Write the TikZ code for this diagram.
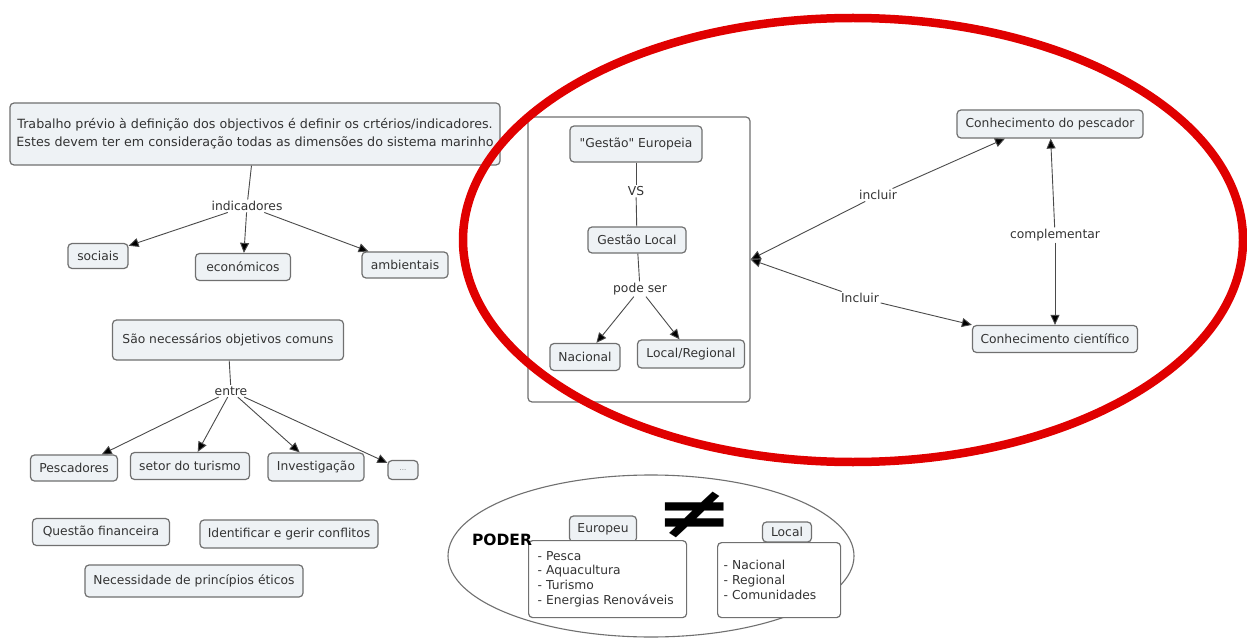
\documentclass[tikz,border=0pt]{standalone}
\usepackage{fontspec}
\setmainfont{DejaVu Sans}[Ligatures=TeXOff]
\usetikzlibrary{arrows.meta}
\definecolor{boxfill}{HTML}{EEF2F5}
\definecolor{boxline}{HTML}{707070}
\definecolor{linkc}{HTML}{4A4A4A}
\definecolor{txt}{HTML}{333333}
\definecolor{redc}{HTML}{E00000}
\begin{document}
\begin{tikzpicture}[x=1pt,y=-1pt,
  every node/.style={font=\fontsize{12.3}{14}\selectfont, text=txt},
  concept/.style={draw=boxline, line width=1.2pt, fill=boxfill, rounded corners=4pt, inner sep=2pt, align=center},
  listbox/.style={draw=boxline, line width=1.2pt, fill=white, rounded corners=4pt, align=left, font=\fontsize{12.3}{14.8}\selectfont},
  linklabel/.style={fill=white, inner sep=1.5pt},
  link/.style={draw=linkc, line width=0.9pt},
  arr/.style={link, -{Triangle[length=10pt,width=9pt,fill=black]}}
]
\useasboundingbox[fill=white] (0,0) rectangle (1247,639);

% ---------- left: indicators ----------
\node[concept, minimum width=490pt, minimum height=62pt, font=\fontsize{12.7}{18}\selectfont] (trab) at (255,134)
  {Trabalho prévio à definição dos objectivos é definir os crtérios/indicadores.\\Estes devem ter em consideração todas as dimensões do sistema marinho};
\node[linklabel] (ind) at (247,206) {indicadores};
\node[concept, minimum width=60pt, minimum height=25pt] (soc) at (98,256) {sociais};
\node[concept, minimum width=95pt, minimum height=27pt] (eco) at (243,267) {económicos};
\node[concept, minimum width=86pt, minimum height=26pt] (amb) at (405,265) {ambientais};
\draw[link] (trab) -- (ind);
\draw[arr] (ind) -- (soc);
\draw[arr] (ind) -- (eco);
\draw[arr] (ind) -- (amb);

% ---------- left: common objectives ----------
\node[concept, minimum width=231pt, minimum height=40pt] (obj) at (228,340) {São necessários objetivos comuns};
\node[linklabel] (entre) at (231,391) {entre};
\node[concept, minimum width=87pt, minimum height=26pt] (pesc) at (74,468) {Pescadores};
\node[concept, minimum width=119pt, minimum height=27pt] (setor) at (190,466) {setor do turismo};
\node[concept, minimum width=96pt, minimum height=28pt] (inv) at (316,467) {Investigação};
\node[concept, minimum width=30pt, minimum height=19pt, font=\fontsize{7}{8}\selectfont, text=gray] (dots) at (403,470) {...};
\draw[link] (obj) -- (entre);
\draw[arr] (entre) -- (pesc);
\draw[arr] (entre) -- (setor);
\draw[arr] (entre) -- (inv);
\draw[arr] (entre) -- (dots);

\node[concept, minimum width=137pt, minimum height=27pt] (quest) at (101,532) {Questão financeira};
\node[concept, minimum width=178pt, minimum height=28pt] (ident) at (289,534) {Identificar e gerir conflitos};
\node[concept, minimum width=218pt, minimum height=32pt] (neces) at (194,581) {Necessidade de princípios éticos};

% ---------- container: Gestão ----------
\node[draw=boxline, line width=1.2pt, fill=white, rounded corners=4pt, minimum width=222pt, minimum height=285pt] (cont) at (639,259.5) {};
\node[concept, minimum width=132pt, minimum height=36pt] (geu) at (636,144) {"Gestão" Europeia};
\node[linklabel] (vs) at (636,191) {VS};
\node[concept, minimum width=98pt, minimum height=26pt] (gloc) at (637,240) {Gestão Local};
\node[linklabel] (pode) at (640,289) {pode ser};
\node[concept, minimum width=70pt, minimum height=27pt] (nac) at (585,357) {Nacional};
\node[concept, minimum width=107pt, minimum height=28pt] (lreg) at (691,354) {Local/Regional};
\draw[link] (geu) -- (vs);
\draw[link] (vs) -- (gloc);
\draw[link] (gloc) -- (pode);
\draw[arr] (pode) -- (nac);
\draw[arr] (pode) -- (lreg);

% ---------- right: knowledge ----------
\node[concept, minimum width=186pt, minimum height=28pt] (kp) at (1050,124) {Conhecimento do pescador};
\node[concept, minimum width=165pt, minimum height=27pt] (kc) at (1055,339) {Conhecimento científico};
\node[linklabel] (inc1) at (878,195) {incluir};
\node[linklabel] (inc2) at (860,298) {Incluir};
\node[linklabel] (comp) at (1055,235) {complementar};
\draw[arr] (inc1) -- ([xshift=-45pt]kp.south);
\draw[arr] (inc1) -- (cont.east);
\draw[arr] (inc2) -- (kc.north west);
\draw[arr] (inc2) -- (cont.east);
\draw[arr] (comp) -- (kp);
\draw[arr] (comp) -- (kc);

% ---------- bottom: PODER ----------
\draw[draw=boxline, line width=1.1pt] (651,556) ellipse [x radius=203, y radius=81];
\node[concept, minimum width=67pt, minimum height=26pt] (eu) at (603,529) {Europeu};
\node[listbox, text width=140pt, inner xsep=9pt, minimum height=77pt, anchor=north west] (eul) at (528,540)
  {- Pesca\\- Aquacultura\\- Turismo\\- Energias Renováveis};
\node[concept, minimum width=49pt, minimum height=20pt] (lo) at (787,532) {Local};
\node[listbox, text width=111pt, inner xsep=6pt, minimum height=75pt, anchor=north west] (lol) at (717,542)
  {- Nacional\\- Regional\\- Comunidades};
\node[font=\bfseries\fontsize{15.5}{15.5}\selectfont, text=black, inner sep=0pt] (poder) at (502,540) {PODER};
\node[font=\bfseries\fontsize{72}{72}\selectfont, text=black, inner sep=0pt] (neq) at (695,515) {\scalebox{1.3}[1]{≠}};

% ---------- red ellipse ----------
\draw[redc, line width=8.5pt] (853,240) ellipse [x radius=390, y radius=222];
\end{tikzpicture}
\end{document}
